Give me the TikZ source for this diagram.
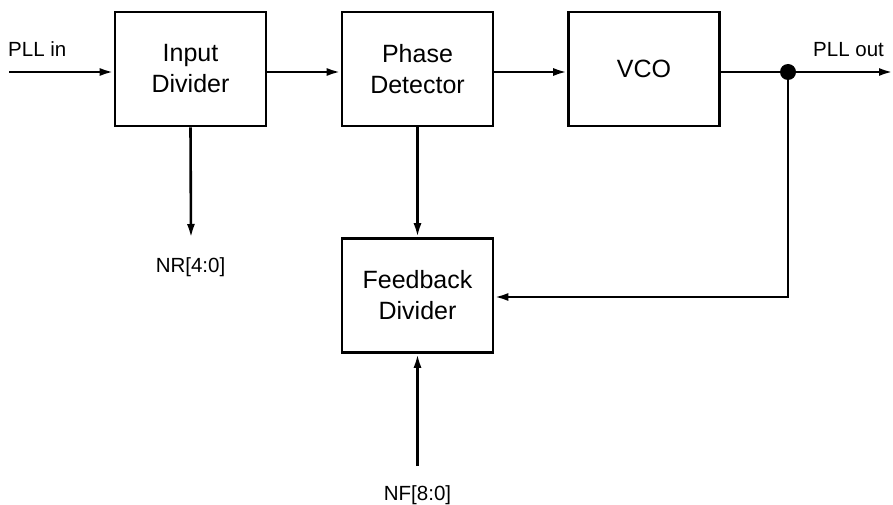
\documentclass[tikz,border=0pt]{standalone}
\usepackage{fontspec}
\setmainfont{Liberation Sans}
\usetikzlibrary{arrows.meta}
\begin{document}
\begin{tikzpicture}[x=1pt,y=-1pt,
  blk/.style={draw,line width=2.6pt,minimum width=151pt,minimum height=114pt,inner sep=0pt,align=center,
    font=\fontsize{25}{31}\selectfont},
  lbl/.style={inner sep=0pt,font=\fontsize{20.5}{24}\selectfont},
  conn/.style={line width=2.6pt,-{Latex[length=14pt,width=8pt]}},
  wire/.style={line width=2.6pt}]
\useasboundingbox (0,0) rectangle (893,505);
\node[blk] (in) at (190.5,69) {Input\\Divider};
\node[blk] (pd) at (417.5,69) {Phase\\Detector};
\node[blk] (vco) at (644,69) {VCO};
\node[blk] (fb) at (417.5,295.5) {Feedback\\Divider};
\coordinate (pllin) at (9,72);
\coordinate (pllout) at (893,72);
\coordinate (dot) at (788,72);
\coordinate (turn) at (788,297);
\coordinate (nrend) at (191,238);
\coordinate (nfstart) at (417.5,466);
\node[lbl,anchor=base west] (tin) at (8,57) {PLL in};
\node[lbl,anchor=base west] (tout) at (813,57) {PLL out};
\node[lbl,anchor=base] (tnr) at (190.5,272) {NR[4:0]};
\node[lbl,anchor=base] (tnf) at (417.5,500) {NF[8:0]};
\draw[conn] (pllin) -- (pllin -| in.west);
\draw[conn] (pllin -| in.east) -- (pllin -| pd.west);
\draw[conn] (pllin -| pd.east) -- (pllin -| vco.west);
\draw[wire] (pllin -| vco.east) -- (dot);
\draw[conn] (dot) -- (pllout);
\fill (dot) circle (8pt);
\draw[conn] (dot) -- (turn) -- (turn -| fb.east);
\draw[conn] (in.south) -- (nrend);
\draw[conn] (pd.south) -- (fb.north);
\draw[conn] (nfstart) -- (fb.south);
\end{tikzpicture}
\end{document}
